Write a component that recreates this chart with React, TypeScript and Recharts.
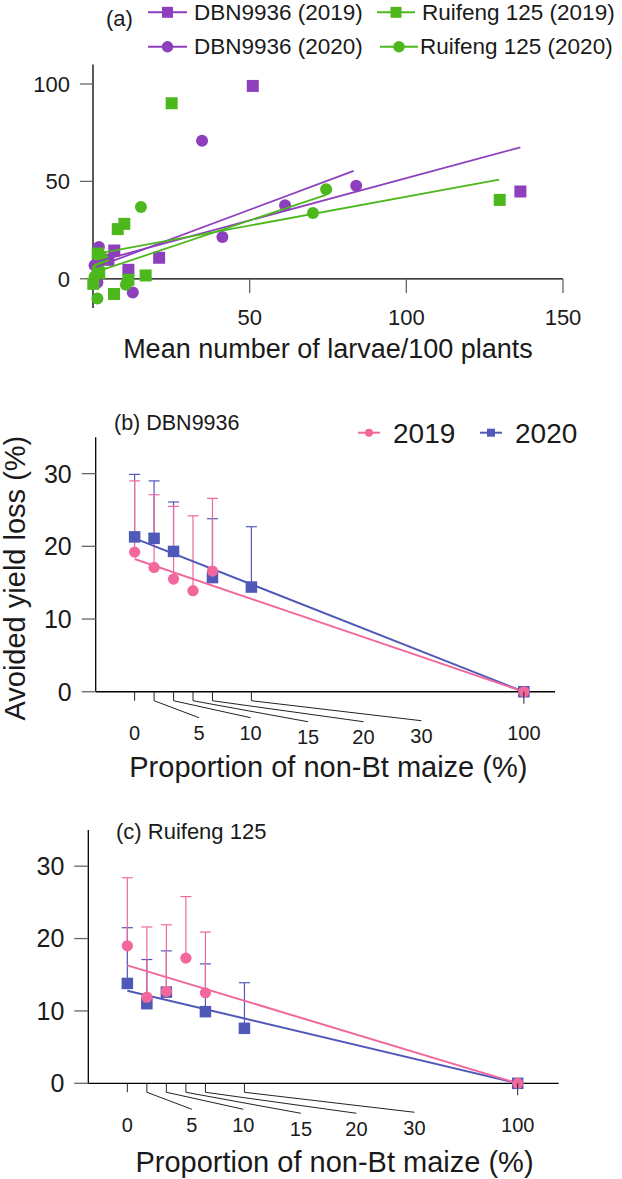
import React from "react";
import { ScatterChart, Scatter, XAxis, YAxis, ErrorBar, ReferenceLine } from "recharts";

const FONT = "'Liberation Sans', Arial, Helvetica, sans-serif";
const TXT = "#1a1a1a";
const PURPLE = "#8E3FBE";
const GREEN = "#4DB81B";
const PINK = "#F2689C";
const BLUE = "#5059B8";

// ---------- Panel (a): avoided yield loss vs larvae ----------
const dbn2019 = [
  { x: 51, y: 99 }, { x: 6.8, y: 14.5 }, { x: 21.1, y: 10.8 }, { x: 11.3, y: 4.6 },
  { x: 4.9, y: 9.7 }, { x: 136.4, y: 44.8 }, { x: 1.5, y: 6.5 },
];
const dbn2020 = [
  { x: 34.8, y: 70.9 }, { x: 41.3, y: 21.4 }, { x: 61.3, y: 37.8 }, { x: 84, y: 47.7 },
  { x: 12.7, y: -7 }, { x: 1.9, y: 16.3 }, { x: 1.4, y: -1.9 }, { x: 0.5, y: 7 },
];
const rf2019 = [
  { x: 25.1, y: 90.1 }, { x: 7.9, y: 25.5 }, { x: 10, y: 28.2 }, { x: 16.8, y: 1.7 },
  { x: 6.7, y: -7.8 }, { x: 11.3, y: -0.5 }, { x: 0.1, y: -2.6 }, { x: 129.8, y: 40.5 },
  { x: 1.5, y: 13 }, { x: 2, y: 3 },
];
const rf2020 = [
  { x: 15.3, y: 36.9 }, { x: 74.4, y: 46 }, { x: 70.2, y: 33.8 }, { x: 10.5, y: -3.1 },
  { x: 1.4, y: -10.1 }, { x: 3.3, y: 9.7 }, { x: 2.5, y: 12 }, { x: 1.5, y: 5 },
  { x: 0.5, y: 1 }, { x: 11, y: -1.5 },
];
const fitDbn2019 = [{ x: 1, y: 8.7 }, { x: 136.4, y: 67.5 }];
const fitDbn2020 = [{ x: 1, y: 6 }, { x: 83.2, y: 55.4 }];
const fitRf2019 = [{ x: 1, y: 12.8 }, { x: 129.6, y: 50.9 }];
const fitRf2020 = [{ x: 1, y: 3.5 }, { x: 74.4, y: 43.1 }];
const aXTicks = [50, 100, 150];
const aYTicks = [0, 50, 100];

// ---------- Panels (b) and (c): avoided yield loss vs proportion ----------
const proportions = [0, 5, 10, 15, 20, 30, 100];
const bYield2019 = [19.2, 17.1, 15.5, 13.9, 16.6, null, 0];
const bUpper2019 = [29.0, 27.1, 25.5, 24.2, 26.6, null, null];
const bYield2020 = [21.3, 21.1, 19.3, null, 15.7, 14.4, 0];
const bUpper2020 = [29.9, 29.0, 26.1, null, 23.8, 22.7, null];
const bFit2019 = [18.25, 0];
const bFit2020 = [21.1, 0];

const cYield2019 = [19.0, 11.9, 12.7, 17.3, 12.5, null, 0];
const cUpper2019 = [28.4, 21.6, 21.9, 25.8, 20.9, null, null];
const cYield2020 = [13.8, 11.0, 12.6, null, 9.9, 7.6, 0];
const cUpper2020 = [21.5, 17.1, 18.3, null, 16.5, 13.9, null];
const cFit2019 = [16.3, 0];
const cFit2020 = [12.8, 0];
const fitX = [0, 100];
const bcYTicks = [0, 10, 20, 30];
const BC_Y_DOMAIN = [-1, 35];
const BC_PAD_PX = 7.27; // pixel gap between y=-1 (plot bottom) and y=0 (axis line)

// points that carry an upper error bar
const buildErrPoints = (ys: (number | null)[], ups: (number | null)[]) =>
  proportions
    .map((x, i) => (ys[i] == null || ups[i] == null ? null : { x, y: ys[i] as number, err: [0, (ups[i] as number) - (ys[i] as number)] }))
    .filter(Boolean) as any[];
// points without an error bar
const buildPlainPoints = (ys: (number | null)[], ups: (number | null)[]) =>
  proportions
    .map((x, i) => (ys[i] == null || ups[i] != null ? null : { x, y: ys[i] as number }))
    .filter(Boolean) as any[];
const buildFit = (ys: number[]) => fitX.map((x, i) => ({ x, y: ys[i] }));

// ---------- shapes ----------
const squareShape = (color: string, s: number) => (p: any) =>
  <rect x={p.cx - s / 2} y={p.cy - s / 2} width={s} height={s} fill={color} />;
const circleShape = (color: string, r: number) => (p: any) =>
  <circle cx={p.cx} cy={p.cy} r={r} fill={color} />;
const emptyShape = () => <g />;

// ---------- ticks ----------
const ATick = (props: any) => {
  const { x, y, payload } = props;
  return (
    <g>
      <line x1={x} x2={x} y1={y - 29} y2={y - 15} stroke="#666" strokeWidth={1.3} />
      <text x={x} y={y + 17} textAnchor="middle" fontSize={22} fontFamily={FONT} fill={TXT}>
        {payload.value}
      </text>
    </g>
  );
};

const LABEL_SHIFT = [0, 45, 77, 115, 151, 170, 0];
const LABEL_DROP = [0, 0, 0, 4, 4, 3, 0];
const PropTick = (props: any) => {
  const { x, payload } = props;
  const y = props.y - BC_PAD_PX;
  const i = proportions.indexOf(payload.value);
  const shift = LABEL_SHIFT[i] || 0;
  const drop = LABEL_DROP[i] || 0;
  const lx = x + shift;
  return (
    <g>
      {shift === 0 ? (
        <line x1={x} x2={x} y1={y} y2={y + (payload.value === 100 ? 12 : 9)} stroke="#222" strokeWidth={1} />
      ) : (
        <polyline points={`${x},${y} ${x},${y + 9} ${lx},${y + 26 + drop}`} fill="none" stroke="#222" strokeWidth={1} />
      )}
      <text x={lx} y={y + 48.5 + drop} textAnchor="middle" fontSize={20} fontFamily={FONT} fill={TXT}>
        {payload.value}
      </text>
    </g>
  );
};

const YLabel = (props: any) => {
  const vb = props.viewBox || {};
  const cx = 25;
  const cy = vb.y + vb.height / 2 + 10;
  return (
    <text x={cx} y={cy} transform={`rotate(-90 ${cx} ${cy})`} textAnchor="middle" fontSize={29} fontFamily={FONT} fill={TXT}>
      Avoided yield loss (%)
    </text>
  );
};

const PanelA = () => (
  <ScatterChart width={622} height={375} margin={{ top: 64.5, right: 59, bottom: 0, left: 0 }}>
    <XAxis
      type="number"
      dataKey="x"
      domain={[0, 150]}
      ticks={aXTicks}
      interval={0}
      axisLine={false}
      tickLine={false}
      tickSize={0}
      tickMargin={0}
      height={67}
      tick={<ATick />}
      label={{ value: "Mean number of larvae/100 plants", position: "insideBottom", offset: 17, style: { fontSize: 27, fontFamily: FONT, fill: TXT } }}
    />
    <YAxis
      type="number"
      dataKey="y"
      domain={[-15, 110]}
      ticks={aYTicks}
      interval={0}
      width={93}
      axisLine={{ stroke: "#000", strokeWidth: 1.3 }}
      tickLine={{ stroke: "#666", strokeWidth: 1.3 }}
      tickSize={13}
      tickMargin={10}
      tick={{ fontSize: 22, fontFamily: FONT, fill: TXT }}
    />
    <ReferenceLine y={0} stroke="#000" strokeWidth={1.3} />
    <Scatter data={dbn2019} fill={PURPLE} shape={squareShape(PURPLE, 12)} isAnimationActive={false} />
    <Scatter data={dbn2020} fill={PURPLE} shape={circleShape(PURPLE, 6)} isAnimationActive={false} />
    <Scatter data={rf2019} fill={GREEN} shape={squareShape(GREEN, 12)} isAnimationActive={false} />
    <Scatter data={rf2020} fill={GREEN} shape={circleShape(GREEN, 6)} isAnimationActive={false} />
    <Scatter data={fitDbn2019} fill={PURPLE} line={{ stroke: PURPLE, strokeWidth: 1.8 }} shape={emptyShape} isAnimationActive={false} />
    <Scatter data={fitDbn2020} fill={PURPLE} line={{ stroke: PURPLE, strokeWidth: 1.8 }} shape={emptyShape} isAnimationActive={false} />
    <Scatter data={fitRf2019} fill={GREEN} line={{ stroke: GREEN, strokeWidth: 1.8 }} shape={emptyShape} isAnimationActive={false} />
    <Scatter data={fitRf2020} fill={GREEN} line={{ stroke: GREEN, strokeWidth: 1.8 }} shape={emptyShape} isAnimationActive={false} />
  </ScatterChart>
);

const PanelBC = (p: {
  height: number; top: number; yW: number; right: number; xH: number; xDomain: number[];
  y19: (number | null)[]; u19: (number | null)[]; y20: (number | null)[]; u20: (number | null)[];
  f19: number[]; f20: number[]; labelOffset: number; labelDx: number; showYLabel: boolean;
}) => (
  <ScatterChart width={622} height={p.height} margin={{ top: p.top, right: p.right, bottom: 0, left: 0 }}>
    <XAxis
      type="number"
      dataKey="x"
      domain={p.xDomain}
      ticks={proportions}
      interval={0}
      axisLine={false}
      tickLine={false}
      tickSize={0}
      tickMargin={0}
      height={p.xH}
      tick={<PropTick />}
      label={{ value: "Proportion of non-Bt maize (%)", position: "insideBottom", offset: p.labelOffset, dx: p.labelDx, style: { fontSize: 29, fontFamily: FONT, fill: TXT } }}
    />
    <YAxis
      type="number"
      dataKey="y"
      domain={BC_Y_DOMAIN}
      ticks={bcYTicks}
      interval={0}
      width={p.yW}
      axisLine={false}
      tickLine={{ stroke: "#666", strokeWidth: 1.3 }}
      tickSize={14}
      tickMargin={10}
      tick={{ fontSize: 25, fontFamily: FONT, fill: TXT }}
      label={p.showYLabel ? <YLabel /> : undefined}
    />
    <ReferenceLine y={0} stroke="#000" strokeWidth={1.3} />
    <ReferenceLine
      segment={[{ x: p.xDomain[0], y: 0 }, { x: p.xDomain[0], y: BC_Y_DOMAIN[1] }]}
      stroke="#000"
      strokeWidth={1.3}
    />
    <Scatter data={buildErrPoints(p.y20, p.u20)} fill={BLUE} shape={squareShape(BLUE, 11.5)} isAnimationActive={false}>
      <ErrorBar dataKey="err" direction="y" width={5.5} stroke={BLUE} strokeWidth={1.2} />
    </Scatter>
    <Scatter data={buildFit(p.f20)} fill={BLUE} line={{ stroke: BLUE, strokeWidth: 2 }} shape={emptyShape} isAnimationActive={false} />
    <Scatter data={buildErrPoints(p.y19, p.u19)} fill={PINK} shape={circleShape(PINK, 5.6)} isAnimationActive={false}>
      <ErrorBar dataKey="err" direction="y" width={5.5} stroke={PINK} strokeWidth={1.2} />
    </Scatter>
    <Scatter data={buildFit(p.f19)} fill={PINK} line={{ stroke: PINK, strokeWidth: 2 }} shape={emptyShape} isAnimationActive={false} />
    <Scatter data={buildPlainPoints(p.y20, p.u20)} fill={BLUE} shape={squareShape(BLUE, 11.5)} isAnimationActive={false} />
    <Scatter data={buildPlainPoints(p.y19, p.u19)} fill={PINK} shape={circleShape(PINK, 5.6)} isAnimationActive={false} />
  </ScatterChart>
);

const LegendItem = ({ x1, x2, cy, color, kind, size, label, tx, ty, fs }: any) => (
  <g>
    <line x1={x1} x2={x2} y1={cy} y2={cy} stroke={color} strokeWidth={2} />
    {kind === "square" ? (
      <rect x={(x1 + x2) / 2 - size / 2} y={cy - size / 2} width={size} height={size} fill={color} />
    ) : (
      <circle cx={(x1 + x2) / 2} cy={cy} r={size / 2} fill={color} />
    )}
    <text x={tx} y={ty} fontSize={fs} fontFamily={FONT} fill={TXT}>{label}</text>
  </g>
);

export default function App() {
  return (
    <div style={{ position: "absolute", left: 0, top: 0, width: 622, height: 1179, background: "#fff", overflow: "hidden" }}>
      <div style={{ position: "absolute", left: 0, top: 0 }}>
        <PanelA />
      </div>
      <div style={{ position: "absolute", left: 0, top: 375 }}>
        <PanelBC height={415} top={62.3} yW={95.7} right={67} xH={91} xDomain={[-10, 108]}
          y19={bYield2019} u19={bUpper2019} y20={bYield2020} u20={bUpper2020}
          f19={bFit2019} f20={bFit2020} labelOffset={13} labelDx={3} showYLabel={true} />
      </div>
      <div style={{ position: "absolute", left: 0, top: 790 }}>
        <PanelBC height={389} top={40} yW={88.3} right={63.3} xH={88.45} xDomain={[-10, 110.5]}
          y19={cYield2019} u19={cUpper2019} y20={cYield2020} u20={cUpper2020}
          f19={cFit2019} f20={cFit2020} labelOffset={7.3} labelDx={11} showYLabel={false} />
      </div>
      <svg width={622} height={1179} style={{ position: "absolute", left: 0, top: 0, pointerEvents: "none" }}>
        <text x={106} y={26} fontSize={22} fontFamily={FONT} fill={TXT}>(a)</text>
        <LegendItem x1={148} x2={187} cy={12.3} color={PURPLE} kind="square" size={11} label="DBN9936 (2019)" tx={194} ty={20} fs={22.5} />
        <LegendItem x1={377} x2={415} cy={12.3} color={GREEN} kind="square" size={11} label="Ruifeng 125 (2019)" tx={422} ty={20} fs={22.5} />
        <LegendItem x1={148} x2={187} cy={46.7} color={PURPLE} kind="circle" size={11.5} label="DBN9936 (2020)" tx={194} ty={54} fs={22.5} />
        <LegendItem x1={380} x2={418} cy={46.7} color={GREEN} kind="circle" size={11.5} label="Ruifeng 125 (2020)" tx={420} ty={54} fs={22.5} />

        <text x={114} y={430} fontSize={21.5} fontFamily={FONT} fill={TXT}>(b) DBN9936</text>
        <LegendItem x1={358} x2={380} cy={432.7} color={PINK} kind="circle" size={8} label="2019" tx={393} ty={443.3} fs={28} />
        <LegendItem x1={480} x2={502} cy={432.7} color={BLUE} kind="square" size={8} label="2020" tx={515} ty={443.3} fs={28} />

        <text x={116} y={839.3} fontSize={22} fontFamily={FONT} fill={TXT}>(c) Ruifeng 125</text>
      </svg>
    </div>
  );
}
